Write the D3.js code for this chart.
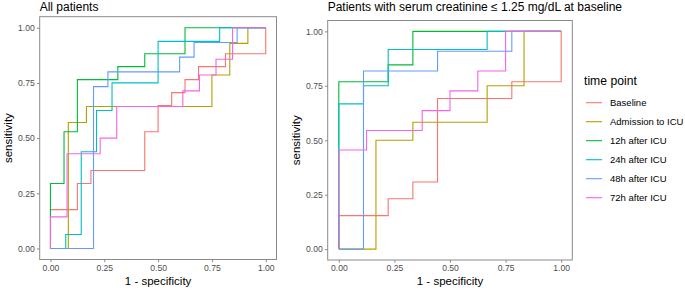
<!DOCTYPE html>
<html>
<head>
<meta charset="utf-8">
<script src="https://cdn.jsdelivr.net/npm/d3@7"></script>
<style>
  body { margin: 0; background: #fff; }
  text { font-family: "Liberation Sans", Arial, sans-serif; }
</style>
</head>
<body>
<div id="chart"></div>
<script>
// time points (legend order = draw order)
const timePoints = ["Baseline", "Admission to ICU", "12h after ICU", "24h after ICU", "48h after ICU", "72h after ICU"];
const colors = ["#F8766D", "#B79F00", "#00BA38", "#00BFC4", "#619CFF", "#F564E3"];
const ticks = [0, 0.25, 0.5, 0.75, 1];

// All patients: 1 - specificity / sensitivity step points
const allFpr = [
    [0, 0, 0.125, 0.188, 0.438, 0.5, 0.563, 0.625, 0.688, 0.813, 1],
    [0, 0.083, 0.167, 0.75, 0.833, 0.917, 1],
    [0, 0, 0.063, 0.125, 0.313, 0.438, 0.625, 1],
    [0, 0.071, 0.143, 0.214, 0.286, 0.5, 0.786, 1],
    [0, 0.2, 0.267, 0.6, 0.667, 0.867, 1],
    [0, 0, 0.077, 0.231, 0.308, 0.615, 0.692, 0.769, 0.846, 1]
];
const allSens = [
    [0, 0.176, 0.294, 0.353, 0.529, 0.647, 0.706, 0.765, 0.824, 0.882, 1],
    [0, 0.571, 0.643, 0.786, 0.929, 1, 1],
    [0, 0.294, 0.529, 0.765, 0.824, 0.882, 1, 1],
    [0, 0.063, 0.438, 0.625, 0.75, 0.938, 1, 1],
    [0, 0.733, 0.8, 0.867, 0.933, 1, 1],
    [0, 0.143, 0.429, 0.5, 0.643, 0.714, 0.786, 0.857, 1, 1]
];

// Serum creatinine <= 1.25 mg/dL at baseline
const lowFpr = [
    [0, 0, 0.222, 0.333, 0.444, 0.778, 1],
    [0, 0.167, 0.333, 0.667, 0.833, 1],
    [0, 0, 0.222, 0.333, 1],
    [0, 0, 0.111, 0.222, 0.667, 1],
    [0, 0.111, 0.444, 0.778, 1],
    [0, 0, 0.125, 0.375, 0.5, 0.625, 0.75, 1]
];
const lowSens = [
    [0, 0.154, 0.231, 0.308, 0.692, 0.769, 1],
    [0, 0.5, 0.583, 0.75, 1, 1],
    [0, 0.769, 0.846, 1, 1],
    [0, 0.667, 0.75, 0.917, 1, 1],
    [0, 0.818, 0.909, 1, 1],
    [0, 0.455, 0.545, 0.636, 0.727, 0.818, 1, 1]
];

const svg = d3.select("#chart")
    .append("svg")
    .attr("width", 685)
    .attr("height", 291);

const color = d3.scaleOrdinal().domain(timePoints).range(colors);

function drawPanel(p) {
    const x = d3.scaleLinear().domain([-0.05, 1.05]).range([p.left, p.right]);
    const y = d3.scaleLinear().domain([-0.05, 1.05]).range([p.bottom, p.top]);

    const g = svg.append("g");

    // ROC curves
    const line = d3.line()
        .x(d => x(d[0]))
        .y(d => y(d[1]))
        .curve(d3.curveStepAfter);

    timePoints.forEach((tp, i) => {
        const pts = p.fpr[i].map((f, j) => [f, p.sens[i][j]]);
        g.append("path")
            .datum(pts)
            .attr("fill", "none")
            .attr("stroke", color(tp))
            .attr("stroke-width", 1.1)
            .attr("d", line);
    });

    // panel border
    g.append("rect")
        .attr("x", p.left)
        .attr("y", p.top)
        .attr("width", p.right - p.left)
        .attr("height", p.bottom - p.top)
        .attr("fill", "none")
        .attr("stroke", "#8a8a8a")
        .attr("stroke-width", 1);

    // axes
    const xAxis = g.append("g")
        .attr("transform", `translate(0,${p.bottom})`)
        .call(d3.axisBottom(x).tickValues(ticks).tickFormat(d3.format(".2f")).tickSize(2.7).tickPadding(2.5));
    const yAxis = g.append("g")
        .attr("transform", `translate(${p.left},0)`)
        .call(d3.axisLeft(y).tickValues(ticks).tickFormat(d3.format(".2f")).tickSize(2.7).tickPadding(2.2));

    [xAxis, yAxis].forEach(a => {
        a.select(".domain").remove();
        a.selectAll("line").attr("stroke", "#8a8a8a");
        a.selectAll("text")
            .attr("fill", "#4d4d4d")
            .style("font-size", "8.6px")
            .style("font-family", "'Liberation Sans', Arial, sans-serif");
    });

    // axis titles
    g.append("text")
        .attr("x", (p.left + p.right) / 2)
        .attr("y", 285)
        .attr("text-anchor", "middle")
        .style("font-size", "11.5px")
        .text("1 - specificity");

    g.append("text")
        .attr("transform", `translate(${p.left - 28},${(p.top + p.bottom) / 2}) rotate(-90)`)
        .attr("text-anchor", "middle")
        .style("font-size", "11.5px")
        .text("sensitivity");

    // panel title
    g.append("text")
        .attr("x", p.left)
        .attr("y", 10.5)
        .style("font-size", "12px")
        .text(p.title);
}

drawPanel({ left: 39.7, right: 276.5, top: 16.7, bottom: 259.5, fpr: allFpr, sens: allSens, title: "All patients" });
drawPanel({ left: 327.7, right: 572.3, top: 20.5, bottom: 260, fpr: lowFpr, sens: lowSens,
    title: "Patients with serum creatinine  \u2264 1.25 mg/dL at baseline" });

// legend
const legend = svg.append("g").attr("transform", "translate(584,0)");

legend.append("text")
    .attr("x", 0)
    .attr("y", 84.5)
    .style("font-size", "12.2px")
    .text("time point");

timePoints.forEach((tp, i) => {
    const ly = 102.7 + i * 19;
    legend.append("line")
        .attr("x1", 2).attr("x2", 18)
        .attr("y1", ly).attr("y2", ly)
        .attr("stroke", color(tp))
        .attr("stroke-width", 1.1);
    legend.append("text")
        .attr("x", 26)
        .attr("y", ly + 3.3)
        .style("font-size", "9.5px")
        .text(tp);
});
</script>
</body>
</html>
